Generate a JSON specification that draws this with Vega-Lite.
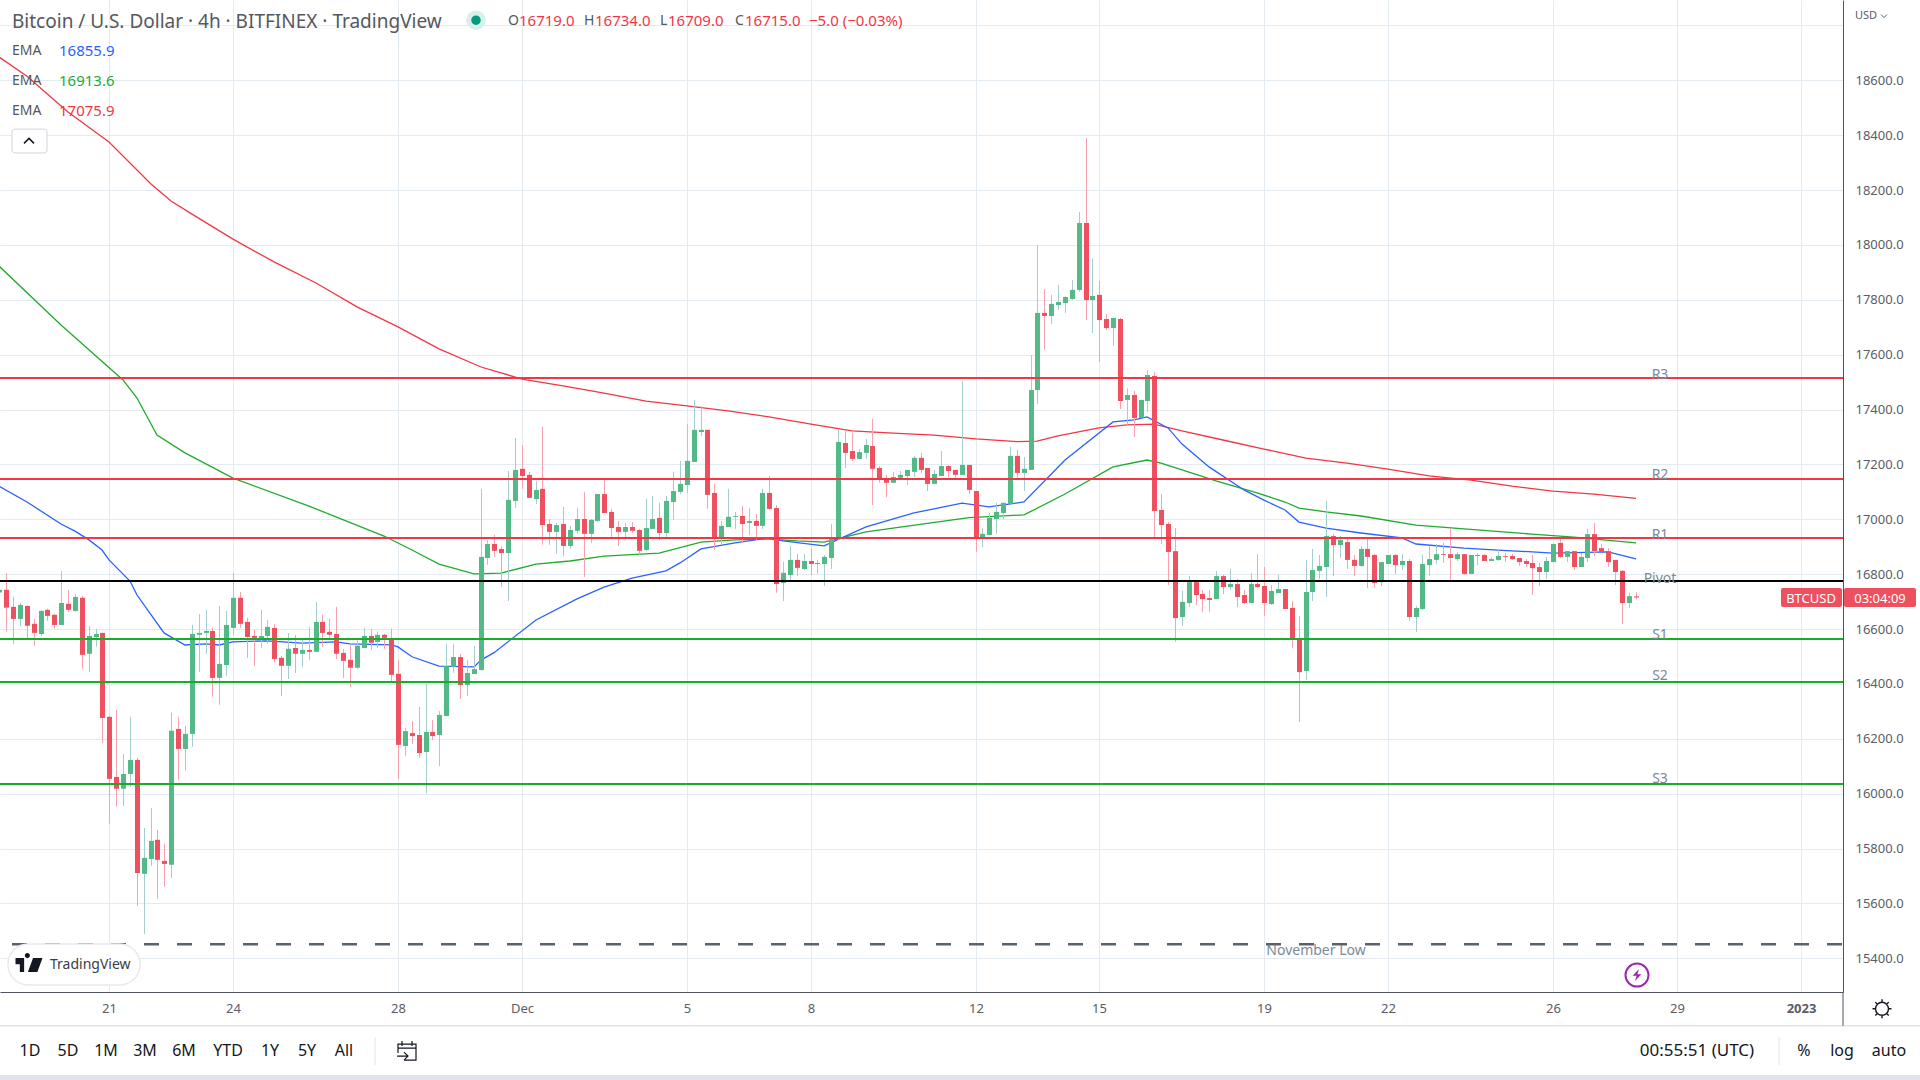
{"$schema":"https://vega.github.io/schema/vega-lite/v6.json","width":1843,"height":992,"autosize":{"type":"none"},"padding":{"left":0,"top":0,"right":77,"bottom":88},"background":"#ffffff","config":{"font":"Noto Sans","view":{"stroke":null},"text":{"font":"Noto Sans"}},
"datasets":{"bars":[
{"t":"2022-11-18T08:00Z","o":16733,"h":16750,"l":16720,"c":16743},{"t":"2022-11-18T12:00Z","o":16743,"h":16804,"l":16591,"c":16678},{"t":"2022-11-18T16:00Z","o":16681,"h":16717,"l":16546,"c":16637},{"t":"2022-11-18T20:00Z","o":16637,"h":16695,"l":16612,"c":16688},
{"t":"2022-11-19T00:00Z","o":16684,"h":16688,"l":16568,"c":16612},{"t":"2022-11-19T04:00Z","o":16619,"h":16637,"l":16539,"c":16586},{"t":"2022-11-19T08:00Z","o":16582,"h":16670,"l":16575,"c":16666},{"t":"2022-11-19T12:00Z","o":16670,"h":16674,"l":16630,"c":16648},{"t":"2022-11-19T16:00Z","o":16652,"h":16655,"l":16601,"c":16615},{"t":"2022-11-19T20:00Z","o":16615,"h":16812,"l":16615,"c":16695},
{"t":"2022-11-20T00:00Z","o":16692,"h":16743,"l":16663,"c":16670},{"t":"2022-11-20T04:00Z","o":16666,"h":16728,"l":16663,"c":16717},{"t":"2022-11-20T08:00Z","o":16714,"h":16721,"l":16455,"c":16506},{"t":"2022-11-20T12:00Z","o":16510,"h":16612,"l":16444,"c":16575},{"t":"2022-11-20T16:00Z","o":16571,"h":16601,"l":16535,"c":16582},{"t":"2022-11-20T20:00Z","o":16586,"h":16586,"l":16185,"c":16276},
{"t":"2022-11-21T00:00Z","o":16280,"h":16284,"l":15890,"c":16054},{"t":"2022-11-21T04:00Z","o":16061,"h":16305,"l":15952,"c":16018},{"t":"2022-11-21T08:00Z","o":16018,"h":16145,"l":15956,"c":16072},{"t":"2022-11-21T12:00Z","o":16072,"h":16280,"l":16025,"c":16123},{"t":"2022-11-21T16:00Z","o":16123,"h":16131,"l":15591,"c":15711},{"t":"2022-11-21T20:00Z","o":15708,"h":15875,"l":15489,"c":15766},
{"t":"2022-11-22T00:00Z","o":15762,"h":15948,"l":15737,"c":15828},{"t":"2022-11-22T04:00Z","o":15832,"h":15868,"l":15617,"c":15759},{"t":"2022-11-22T08:00Z","o":15755,"h":15817,"l":15660,"c":15744},{"t":"2022-11-22T12:00Z","o":15741,"h":16295,"l":15693,"c":16229},{"t":"2022-11-22T16:00Z","o":16236,"h":16280,"l":16050,"c":16163},{"t":"2022-11-22T20:00Z","o":16163,"h":16247,"l":16083,"c":16218},
{"t":"2022-11-23T00:00Z","o":16218,"h":16615,"l":16171,"c":16582},{"t":"2022-11-23T04:00Z","o":16579,"h":16655,"l":16444,"c":16586},{"t":"2022-11-23T08:00Z","o":16586,"h":16670,"l":16510,"c":16593},{"t":"2022-11-23T12:00Z","o":16593,"h":16604,"l":16353,"c":16422},{"t":"2022-11-23T16:00Z","o":16422,"h":16684,"l":16324,"c":16473},{"t":"2022-11-23T20:00Z","o":16469,"h":16666,"l":16429,"c":16615},
{"t":"2022-11-24T00:00Z","o":16604,"h":16805,"l":16579,"c":16714},{"t":"2022-11-24T04:00Z","o":16714,"h":16735,"l":16604,"c":16619},{"t":"2022-11-24T08:00Z","o":16626,"h":16641,"l":16495,"c":16571},{"t":"2022-11-24T12:00Z","o":16575,"h":16597,"l":16466,"c":16568},{"t":"2022-11-24T16:00Z","o":16564,"h":16670,"l":16531,"c":16575},{"t":"2022-11-24T20:00Z","o":16575,"h":16633,"l":16546,"c":16608},
{"t":"2022-11-25T00:00Z","o":16604,"h":16619,"l":16477,"c":16491},{"t":"2022-11-25T04:00Z","o":16495,"h":16502,"l":16356,"c":16466},{"t":"2022-11-25T08:00Z","o":16466,"h":16586,"l":16418,"c":16528},{"t":"2022-11-25T12:00Z","o":16531,"h":16579,"l":16440,"c":16510},{"t":"2022-11-25T16:00Z","o":16510,"h":16561,"l":16462,"c":16524},{"t":"2022-11-25T20:00Z","o":16524,"h":16608,"l":16488,"c":16517},
{"t":"2022-11-26T00:00Z","o":16517,"h":16699,"l":16517,"c":16626},{"t":"2022-11-26T04:00Z","o":16626,"h":16652,"l":16535,"c":16586},{"t":"2022-11-26T08:00Z","o":16590,"h":16637,"l":16568,"c":16579},{"t":"2022-11-26T12:00Z","o":16582,"h":16681,"l":16491,"c":16510},{"t":"2022-11-26T16:00Z","o":16513,"h":16528,"l":16422,"c":16484},{"t":"2022-11-26T20:00Z","o":16488,"h":16542,"l":16389,"c":16459},
{"t":"2022-11-27T00:00Z","o":16459,"h":16561,"l":16455,"c":16539},{"t":"2022-11-27T04:00Z","o":16531,"h":16604,"l":16531,"c":16575},{"t":"2022-11-27T08:00Z","o":16575,"h":16601,"l":16524,"c":16550},{"t":"2022-11-27T12:00Z","o":16553,"h":16590,"l":16531,"c":16579},{"t":"2022-11-27T16:00Z","o":16579,"h":16582,"l":16528,"c":16568},{"t":"2022-11-27T20:00Z","o":16564,"h":16601,"l":16411,"c":16433},
{"t":"2022-11-28T00:00Z","o":16437,"h":16488,"l":16054,"c":16178},{"t":"2022-11-28T04:00Z","o":16174,"h":16239,"l":16137,"c":16228},{"t":"2022-11-28T08:00Z","o":16221,"h":16265,"l":16181,"c":16210},{"t":"2022-11-28T12:00Z","o":16214,"h":16316,"l":16130,"c":16148},{"t":"2022-11-28T16:00Z","o":16152,"h":16400,"l":16002,"c":16225},{"t":"2022-11-28T20:00Z","o":16225,"h":16268,"l":16196,"c":16210},
{"t":"2022-11-29T00:00Z","o":16214,"h":16301,"l":16101,"c":16287},{"t":"2022-11-29T04:00Z","o":16283,"h":16545,"l":16283,"c":16465},{"t":"2022-11-29T08:00Z","o":16462,"h":16545,"l":16440,"c":16498},{"t":"2022-11-29T12:00Z","o":16498,"h":16509,"l":16345,"c":16396},{"t":"2022-11-29T16:00Z","o":16396,"h":16487,"l":16356,"c":16440},{"t":"2022-11-29T20:00Z","o":16436,"h":16538,"l":16436,"c":16454},
{"t":"2022-11-30T00:00Z","o":16451,"h":17111,"l":16447,"c":16863},{"t":"2022-11-30T04:00Z","o":16859,"h":16925,"l":16834,"c":16910},{"t":"2022-11-30T08:00Z","o":16910,"h":16943,"l":16863,"c":16885},{"t":"2022-11-30T12:00Z","o":16892,"h":16903,"l":16753,"c":16877},{"t":"2022-11-30T16:00Z","o":16877,"h":17176,"l":16702,"c":17071},{"t":"2022-11-30T20:00Z","o":17067,"h":17297,"l":17041,"c":17180},
{"t":"2022-12-01T00:00Z","o":17184,"h":17271,"l":17111,"c":17158},{"t":"2022-12-01T04:00Z","o":17162,"h":17173,"l":17078,"c":17078},{"t":"2022-12-01T08:00Z","o":17074,"h":17140,"l":17056,"c":17107},{"t":"2022-12-01T12:00Z","o":17111,"h":17337,"l":16907,"c":16979},{"t":"2022-12-01T16:00Z","o":16983,"h":17001,"l":16907,"c":16954},{"t":"2022-12-01T20:00Z","o":16954,"h":16987,"l":16874,"c":16979},
{"t":"2022-12-02T00:00Z","o":16983,"h":17045,"l":16866,"c":16903},{"t":"2022-12-02T04:00Z","o":16903,"h":16976,"l":16892,"c":16961},{"t":"2022-12-02T08:00Z","o":16958,"h":17041,"l":16947,"c":17001},{"t":"2022-12-02T12:00Z","o":17001,"h":17100,"l":16790,"c":16947},{"t":"2022-12-02T16:00Z","o":16947,"h":17001,"l":16914,"c":16998},{"t":"2022-12-02T20:00Z","o":16994,"h":17092,"l":16990,"c":17092},
{"t":"2022-12-03T00:00Z","o":17092,"h":17147,"l":17023,"c":17023},{"t":"2022-12-03T04:00Z","o":17027,"h":17038,"l":16936,"c":16968},{"t":"2022-12-03T08:00Z","o":16972,"h":16994,"l":16903,"c":16954},{"t":"2022-12-03T12:00Z","o":16954,"h":16987,"l":16932,"c":16972},{"t":"2022-12-03T16:00Z","o":16972,"h":16990,"l":16950,"c":16958},{"t":"2022-12-03T20:00Z","o":16961,"h":16965,"l":16870,"c":16885},
{"t":"2022-12-04T00:00Z","o":16888,"h":17074,"l":16885,"c":16968},{"t":"2022-12-04T04:00Z","o":16965,"h":17085,"l":16965,"c":17001},{"t":"2022-12-04T08:00Z","o":17005,"h":17060,"l":16925,"c":16950},{"t":"2022-12-04T12:00Z","o":16950,"h":17085,"l":16936,"c":17067},{"t":"2022-12-04T16:00Z","o":17063,"h":17173,"l":16998,"c":17103},{"t":"2022-12-04T20:00Z","o":17100,"h":17213,"l":17092,"c":17129},
{"t":"2022-12-05T00:00Z","o":17125,"h":17348,"l":17096,"c":17213},{"t":"2022-12-05T04:00Z","o":17209,"h":17435,"l":17209,"c":17326},{"t":"2022-12-05T08:00Z","o":17318,"h":17413,"l":17304,"c":17326},{"t":"2022-12-05T12:00Z","o":17326,"h":17326,"l":17038,"c":17089},{"t":"2022-12-05T16:00Z","o":17096,"h":17129,"l":16888,"c":16932},{"t":"2022-12-05T20:00Z","o":16932,"h":16994,"l":16910,"c":16976},
{"t":"2022-12-06T00:00Z","o":16972,"h":17111,"l":16972,"c":17009},{"t":"2022-12-06T04:00Z","o":17009,"h":17027,"l":16965,"c":17012},{"t":"2022-12-06T08:00Z","o":17012,"h":17049,"l":16914,"c":16983},{"t":"2022-12-06T12:00Z","o":16987,"h":17041,"l":16943,"c":16994},{"t":"2022-12-06T16:00Z","o":16994,"h":17019,"l":16925,"c":16976},{"t":"2022-12-06T20:00Z","o":16976,"h":17111,"l":16965,"c":17096},
{"t":"2022-12-07T00:00Z","o":17096,"h":17158,"l":17034,"c":17038},{"t":"2022-12-07T04:00Z","o":17041,"h":17052,"l":16732,"c":16764},{"t":"2022-12-07T08:00Z","o":16768,"h":16845,"l":16702,"c":16805},{"t":"2022-12-07T12:00Z","o":16797,"h":16903,"l":16779,"c":16852},{"t":"2022-12-07T16:00Z","o":16852,"h":16874,"l":16794,"c":16823},{"t":"2022-12-07T20:00Z","o":16819,"h":16874,"l":16815,"c":16848},
{"t":"2022-12-08T00:00Z","o":16848,"h":16896,"l":16797,"c":16837},{"t":"2022-12-08T04:00Z","o":16837,"h":16852,"l":16801,"c":16841},{"t":"2022-12-08T08:00Z","o":16837,"h":16870,"l":16757,"c":16863},{"t":"2022-12-08T12:00Z","o":16859,"h":16983,"l":16819,"c":16928},{"t":"2022-12-08T16:00Z","o":16928,"h":17326,"l":16925,"c":17282},{"t":"2022-12-08T20:00Z","o":17278,"h":17322,"l":17187,"c":17242},
{"t":"2022-12-09T00:00Z","o":17249,"h":17315,"l":17213,"c":17220},{"t":"2022-12-09T04:00Z","o":17220,"h":17256,"l":17220,"c":17245},{"t":"2022-12-09T08:00Z","o":17242,"h":17293,"l":17220,"c":17271},{"t":"2022-12-09T12:00Z","o":17267,"h":17366,"l":17052,"c":17184},{"t":"2022-12-09T16:00Z","o":17187,"h":17194,"l":17133,"c":17147},{"t":"2022-12-09T20:00Z","o":17147,"h":17162,"l":17081,"c":17133},
{"t":"2022-12-10T00:00Z","o":17133,"h":17173,"l":17133,"c":17154},{"t":"2022-12-10T04:00Z","o":17151,"h":17176,"l":17147,"c":17162},{"t":"2022-12-10T08:00Z","o":17158,"h":17180,"l":17125,"c":17180},{"t":"2022-12-10T12:00Z","o":17173,"h":17231,"l":17154,"c":17224},{"t":"2022-12-10T16:00Z","o":17224,"h":17242,"l":17169,"c":17180},{"t":"2022-12-10T20:00Z","o":17187,"h":17187,"l":17103,"c":17129},
{"t":"2022-12-11T00:00Z","o":17129,"h":17180,"l":17129,"c":17165},{"t":"2022-12-11T04:00Z","o":17158,"h":17249,"l":17158,"c":17194},{"t":"2022-12-11T08:00Z","o":17194,"h":17198,"l":17154,"c":17176},{"t":"2022-12-11T12:00Z","o":17180,"h":17180,"l":17151,"c":17162},{"t":"2022-12-11T16:00Z","o":17162,"h":17504,"l":17162,"c":17198},{"t":"2022-12-11T20:00Z","o":17198,"h":17198,"l":17092,"c":17107},
{"t":"2022-12-12T00:00Z","o":17103,"h":17103,"l":16881,"c":16932},{"t":"2022-12-12T04:00Z","o":16932,"h":16968,"l":16899,"c":16947},{"t":"2022-12-12T08:00Z","o":16943,"h":17023,"l":16943,"c":17005},{"t":"2022-12-12T12:00Z","o":17001,"h":17060,"l":16947,"c":17027},{"t":"2022-12-12T16:00Z","o":17023,"h":17060,"l":17001,"c":17060},{"t":"2022-12-12T20:00Z","o":17056,"h":17264,"l":17056,"c":17231},
{"t":"2022-12-13T00:00Z","o":17231,"h":17253,"l":17151,"c":17169},{"t":"2022-12-13T04:00Z","o":17169,"h":17227,"l":17103,"c":17184},{"t":"2022-12-13T08:00Z","o":17180,"h":17599,"l":17180,"c":17471},{"t":"2022-12-13T12:00Z","o":17471,"h":17999,"l":17420,"c":17752},{"t":"2022-12-13T16:00Z","o":17752,"h":17839,"l":17617,"c":17741},{"t":"2022-12-13T20:00Z","o":17741,"h":17818,"l":17712,"c":17785},
{"t":"2022-12-14T00:00Z","o":17781,"h":17854,"l":17763,"c":17792},{"t":"2022-12-14T04:00Z","o":17788,"h":17814,"l":17752,"c":17810},{"t":"2022-12-14T08:00Z","o":17803,"h":17872,"l":17799,"c":17836},{"t":"2022-12-14T12:00Z","o":17836,"h":18120,"l":17829,"c":18080},{"t":"2022-12-14T16:00Z","o":18080,"h":18390,"l":17726,"c":17799},{"t":"2022-12-14T20:00Z","o":17799,"h":17949,"l":17679,"c":17814},
{"t":"2022-12-15T00:00Z","o":17818,"h":17869,"l":17573,"c":17726},{"t":"2022-12-15T04:00Z","o":17730,"h":17748,"l":17690,"c":17697},{"t":"2022-12-15T08:00Z","o":17697,"h":17734,"l":17632,"c":17734},{"t":"2022-12-15T12:00Z","o":17730,"h":17734,"l":17402,"c":17431},{"t":"2022-12-15T16:00Z","o":17435,"h":17478,"l":17344,"c":17453},{"t":"2022-12-15T20:00Z","o":17453,"h":17468,"l":17300,"c":17369},
{"t":"2022-12-16T00:00Z","o":17369,"h":17435,"l":17369,"c":17435},{"t":"2022-12-16T04:00Z","o":17431,"h":17544,"l":17391,"c":17526},{"t":"2022-12-16T08:00Z","o":17522,"h":17537,"l":16935,"c":17030},{"t":"2022-12-16T12:00Z","o":17034,"h":17092,"l":16910,"c":16979},{"t":"2022-12-16T16:00Z","o":16983,"h":16990,"l":16760,"c":16881},{"t":"2022-12-16T20:00Z","o":16884,"h":16968,"l":16553,"c":16640},
{"t":"2022-12-17T00:00Z","o":16644,"h":16739,"l":16611,"c":16699},{"t":"2022-12-17T04:00Z","o":16695,"h":16793,"l":16680,"c":16771},{"t":"2022-12-17T08:00Z","o":16771,"h":16775,"l":16688,"c":16724},{"t":"2022-12-17T12:00Z","o":16728,"h":16742,"l":16662,"c":16709},{"t":"2022-12-17T16:00Z","o":16713,"h":16742,"l":16662,"c":16706},{"t":"2022-12-17T20:00Z","o":16709,"h":16811,"l":16709,"c":16793},
{"t":"2022-12-18T00:00Z","o":16793,"h":16797,"l":16728,"c":16753},{"t":"2022-12-18T04:00Z","o":16753,"h":16819,"l":16742,"c":16764},{"t":"2022-12-18T08:00Z","o":16764,"h":16782,"l":16680,"c":16717},{"t":"2022-12-18T12:00Z","o":16724,"h":16742,"l":16691,"c":16695},{"t":"2022-12-18T16:00Z","o":16695,"h":16804,"l":16695,"c":16764},{"t":"2022-12-18T20:00Z","o":16764,"h":16873,"l":16750,"c":16753},
{"t":"2022-12-19T00:00Z","o":16757,"h":16826,"l":16648,"c":16695},{"t":"2022-12-19T04:00Z","o":16691,"h":16760,"l":16688,"c":16739},{"t":"2022-12-19T08:00Z","o":16731,"h":16797,"l":16731,"c":16746},{"t":"2022-12-19T12:00Z","o":16746,"h":16746,"l":16673,"c":16673},{"t":"2022-12-19T16:00Z","o":16677,"h":16702,"l":16531,"c":16567},{"t":"2022-12-19T20:00Z","o":16564,"h":16648,"l":16261,"c":16443},
{"t":"2022-12-20T00:00Z","o":16447,"h":16852,"l":16414,"c":16735},{"t":"2022-12-20T04:00Z","o":16735,"h":16892,"l":16702,"c":16815},{"t":"2022-12-20T08:00Z","o":16812,"h":16870,"l":16782,"c":16830},{"t":"2022-12-20T12:00Z","o":16826,"h":17067,"l":16717,"c":16939},{"t":"2022-12-20T16:00Z","o":16939,"h":16946,"l":16793,"c":16906},{"t":"2022-12-20T20:00Z","o":16906,"h":16939,"l":16859,"c":16925},
{"t":"2022-12-21T00:00Z","o":16917,"h":16928,"l":16819,"c":16852},{"t":"2022-12-21T04:00Z","o":16852,"h":16870,"l":16793,"c":16830},{"t":"2022-12-21T08:00Z","o":16830,"h":16903,"l":16826,"c":16892},{"t":"2022-12-21T12:00Z","o":16892,"h":16928,"l":16750,"c":16863},{"t":"2022-12-21T16:00Z","o":16870,"h":16873,"l":16753,"c":16768},{"t":"2022-12-21T20:00Z","o":16771,"h":16844,"l":16757,"c":16844},
{"t":"2022-12-22T00:00Z","o":16837,"h":16870,"l":16837,"c":16870},{"t":"2022-12-22T04:00Z","o":16870,"h":16873,"l":16801,"c":16833},{"t":"2022-12-22T08:00Z","o":16833,"h":16873,"l":16815,"c":16848},{"t":"2022-12-22T12:00Z","o":16848,"h":16855,"l":16629,"c":16644},{"t":"2022-12-22T16:00Z","o":16644,"h":16684,"l":16589,"c":16677},{"t":"2022-12-22T20:00Z","o":16673,"h":16870,"l":16669,"c":16837},
{"t":"2022-12-23T00:00Z","o":16833,"h":16903,"l":16793,"c":16855},{"t":"2022-12-23T04:00Z","o":16852,"h":16910,"l":16837,"c":16873},{"t":"2022-12-23T08:00Z","o":16873,"h":16914,"l":16841,"c":16870},{"t":"2022-12-23T12:00Z","o":16873,"h":16968,"l":16779,"c":16859},{"t":"2022-12-23T16:00Z","o":16855,"h":16881,"l":16848,"c":16873},{"t":"2022-12-23T20:00Z","o":16873,"h":16873,"l":16797,"c":16801},
{"t":"2022-12-24T00:00Z","o":16801,"h":16870,"l":16801,"c":16870},{"t":"2022-12-24T04:00Z","o":16866,"h":16877,"l":16833,"c":16870},{"t":"2022-12-24T08:00Z","o":16870,"h":16873,"l":16848,"c":16848},{"t":"2022-12-24T12:00Z","o":16848,"h":16861,"l":16848,"c":16855},{"t":"2022-12-24T16:00Z","o":16852,"h":16892,"l":16848,"c":16866},{"t":"2022-12-24T20:00Z","o":16866,"h":16877,"l":16844,"c":16863},
{"t":"2022-12-25T00:00Z","o":16866,"h":16874,"l":16852,"c":16855},{"t":"2022-12-25T04:00Z","o":16859,"h":16859,"l":16830,"c":16844},{"t":"2022-12-25T08:00Z","o":16848,"h":16855,"l":16826,"c":16837},{"t":"2022-12-25T12:00Z","o":16841,"h":16870,"l":16724,"c":16822},{"t":"2022-12-25T16:00Z","o":16826,"h":16841,"l":16757,"c":16808},{"t":"2022-12-25T20:00Z","o":16808,"h":16863,"l":16782,"c":16848},
{"t":"2022-12-26T00:00Z","o":16844,"h":16910,"l":16844,"c":16910},{"t":"2022-12-26T04:00Z","o":16914,"h":16932,"l":16859,"c":16863},{"t":"2022-12-26T08:00Z","o":16863,"h":16884,"l":16844,"c":16884},{"t":"2022-12-26T12:00Z","o":16884,"h":16884,"l":16815,"c":16826},{"t":"2022-12-26T16:00Z","o":16826,"h":16877,"l":16826,"c":16863},{"t":"2022-12-26T20:00Z","o":16859,"h":16965,"l":16844,"c":16946},
{"t":"2022-12-27T00:00Z","o":16946,"h":16986,"l":16866,"c":16884},{"t":"2022-12-27T04:00Z","o":16895,"h":16910,"l":16881,"c":16881},{"t":"2022-12-27T08:00Z","o":16884,"h":16895,"l":16826,"c":16844},{"t":"2022-12-27T12:00Z","o":16852,"h":16852,"l":16761,"c":16808},{"t":"2022-12-27T16:00Z","o":16812,"h":16815,"l":16618,"c":16695},{"t":"2022-12-27T20:00Z","o":16695,"h":16731,"l":16677,"c":16720},
{"t":"2022-12-28T00:00Z","o":16719,"h":16734,"l":16709,"c":16715}],
"ema":[
{"s":"EMA slow","t":"2022-11-18T08:00Z","v":18685},{"s":"EMA slow","t":"2022-11-19T00:00Z","v":18615},{"s":"EMA slow","t":"2022-11-20T00:00Z","v":18484},{"s":"EMA slow","t":"2022-11-21T00:00Z","v":18375},{"s":"EMA slow","t":"2022-11-22T00:00Z","v":18222},{"s":"EMA slow","t":"2022-11-22T12:00Z","v":18160},{"s":"EMA slow","t":"2022-11-23T00:00Z","v":18112},{"s":"EMA slow","t":"2022-11-24T00:00Z","v":18021},{"s":"EMA slow","t":"2022-11-25T00:00Z","v":17938},{"s":"EMA slow","t":"2022-11-26T00:00Z","v":17861},{"s":"EMA slow","t":"2022-11-27T00:00Z","v":17774},{"s":"EMA slow","t":"2022-11-28T00:00Z","v":17701},{"s":"EMA slow","t":"2022-11-29T00:00Z","v":17621},{"s":"EMA slow","t":"2022-11-30T00:00Z","v":17555},{"s":"EMA slow","t":"2022-12-01T00:00Z","v":17511},{"s":"EMA slow","t":"2022-12-02T00:00Z","v":17486},{"s":"EMA slow","t":"2022-12-03T00:00Z","v":17460},{"s":"EMA slow","t":"2022-12-04T00:00Z","v":17431},{"s":"EMA slow","t":"2022-12-05T00:00Z","v":17413},{"s":"EMA slow","t":"2022-12-06T00:00Z","v":17395},{"s":"EMA slow","t":"2022-12-07T00:00Z","v":17373},{"s":"EMA slow","t":"2022-12-08T00:00Z","v":17347},{"s":"EMA slow","t":"2022-12-09T00:00Z","v":17322},{"s":"EMA slow","t":"2022-12-10T00:00Z","v":17314},{"s":"EMA slow","t":"2022-12-11T00:00Z","v":17307},{"s":"EMA slow","t":"2022-12-12T00:00Z","v":17293},{"s":"EMA slow","t":"2022-12-13T00:00Z","v":17283},{"s":"EMA slow","t":"2022-12-13T12:00Z","v":17285},{"s":"EMA slow","t":"2022-12-14T00:00Z","v":17304},{"s":"EMA slow","t":"2022-12-15T00:00Z","v":17333},{"s":"EMA slow","t":"2022-12-15T16:00Z","v":17344},{"s":"EMA slow","t":"2022-12-16T08:00Z","v":17347},{"s":"EMA slow","t":"2022-12-17T00:00Z","v":17322},{"s":"EMA slow","t":"2022-12-18T00:00Z","v":17289},{"s":"EMA slow","t":"2022-12-19T00:00Z","v":17256},{"s":"EMA slow","t":"2022-12-20T00:00Z","v":17223},{"s":"EMA slow","t":"2022-12-21T00:00Z","v":17205},{"s":"EMA slow","t":"2022-12-22T00:00Z","v":17183},{"s":"EMA slow","t":"2022-12-23T00:00Z","v":17158},{"s":"EMA slow","t":"2022-12-24T00:00Z","v":17143},{"s":"EMA slow","t":"2022-12-25T00:00Z","v":17121},{"s":"EMA slow","t":"2022-12-26T00:00Z","v":17103},{"s":"EMA slow","t":"2022-12-27T00:00Z","v":17092},{"s":"EMA slow","t":"2022-12-28T00:00Z","v":17076},
{"s":"EMA mid","t":"2022-11-18T08:00Z","v":17923},{"s":"EMA mid","t":"2022-11-19T20:00Z","v":17708},{"s":"EMA mid","t":"2022-11-21T08:00Z","v":17508},{"s":"EMA mid","t":"2022-11-21T16:00Z","v":17442},{"s":"EMA mid","t":"2022-11-22T04:00Z","v":17307},{"s":"EMA mid","t":"2022-11-22T20:00Z","v":17242},{"s":"EMA mid","t":"2022-11-24T00:00Z","v":17150},{"s":"EMA mid","t":"2022-11-25T20:00Z","v":17048},{"s":"EMA mid","t":"2022-11-27T16:00Z","v":16939},{"s":"EMA mid","t":"2022-11-28T08:00Z","v":16888},{"s":"EMA mid","t":"2022-11-29T00:00Z","v":16837},{"s":"EMA mid","t":"2022-11-29T20:00Z","v":16801},{"s":"EMA mid","t":"2022-11-30T12:00Z","v":16804},{"s":"EMA mid","t":"2022-12-01T08:00Z","v":16837},{"s":"EMA mid","t":"2022-12-02T04:00Z","v":16848},{"s":"EMA mid","t":"2022-12-03T00:00Z","v":16866},{"s":"EMA mid","t":"2022-12-04T08:00Z","v":16877},{"s":"EMA mid","t":"2022-12-05T08:00Z","v":16917},{"s":"EMA mid","t":"2022-12-06T04:00Z","v":16925},{"s":"EMA mid","t":"2022-12-07T00:00Z","v":16928},{"s":"EMA mid","t":"2022-12-07T16:00Z","v":16921},{"s":"EMA mid","t":"2022-12-08T08:00Z","v":16917},{"s":"EMA mid","t":"2022-12-09T08:00Z","v":16954},{"s":"EMA mid","t":"2022-12-11T20:00Z","v":17006},{"s":"EMA mid","t":"2022-12-13T04:00Z","v":17016},{"s":"EMA mid","t":"2022-12-14T04:00Z","v":17092},{"s":"EMA mid","t":"2022-12-15T08:00Z","v":17191},{"s":"EMA mid","t":"2022-12-16T04:00Z","v":17216},{"s":"EMA mid","t":"2022-12-16T12:00Z","v":17205},{"s":"EMA mid","t":"2022-12-17T00:00Z","v":17180},{"s":"EMA mid","t":"2022-12-17T20:00Z","v":17140},{"s":"EMA mid","t":"2022-12-18T20:00Z","v":17096},{"s":"EMA mid","t":"2022-12-19T12:00Z","v":17063},{"s":"EMA mid","t":"2022-12-19T20:00Z","v":17041},{"s":"EMA mid","t":"2022-12-20T12:00Z","v":17027},{"s":"EMA mid","t":"2022-12-21T08:00Z","v":17012},{"s":"EMA mid","t":"2022-12-22T16:00Z","v":16979},{"s":"EMA mid","t":"2022-12-23T20:00Z","v":16965},{"s":"EMA mid","t":"2022-12-25T12:00Z","v":16946},{"s":"EMA mid","t":"2022-12-26T12:00Z","v":16935},{"s":"EMA mid","t":"2022-12-28T00:00Z","v":16914},
{"s":"EMA fast","t":"2022-11-18T08:00Z","v":17121},{"s":"EMA fast","t":"2022-11-19T00:00Z","v":17063},{"s":"EMA fast","t":"2022-11-19T20:00Z","v":16983},{"s":"EMA fast","t":"2022-11-20T04:00Z","v":16957},{"s":"EMA fast","t":"2022-11-20T12:00Z","v":16925},{"s":"EMA fast","t":"2022-11-20T20:00Z","v":16888},{"s":"EMA fast","t":"2022-11-21T00:00Z","v":16852},{"s":"EMA fast","t":"2022-11-21T12:00Z","v":16775},{"s":"EMA fast","t":"2022-11-21T16:00Z","v":16724},{"s":"EMA fast","t":"2022-11-22T08:00Z","v":16586},{"s":"EMA fast","t":"2022-11-22T20:00Z","v":16542},{"s":"EMA fast","t":"2022-11-23T08:00Z","v":16546},{"s":"EMA fast","t":"2022-11-23T16:00Z","v":16542},{"s":"EMA fast","t":"2022-11-24T00:00Z","v":16553},{"s":"EMA fast","t":"2022-11-24T20:00Z","v":16557},{"s":"EMA fast","t":"2022-11-25T16:00Z","v":16549},{"s":"EMA fast","t":"2022-11-26T12:00Z","v":16553},{"s":"EMA fast","t":"2022-11-26T20:00Z","v":16546},{"s":"EMA fast","t":"2022-11-27T20:00Z","v":16542},{"s":"EMA fast","t":"2022-11-28T00:00Z","v":16535},{"s":"EMA fast","t":"2022-11-28T08:00Z","v":16499},{"s":"EMA fast","t":"2022-11-29T00:00Z","v":16465},{"s":"EMA fast","t":"2022-11-29T20:00Z","v":16462},{"s":"EMA fast","t":"2022-11-30T00:00Z","v":16487},{"s":"EMA fast","t":"2022-11-30T08:00Z","v":16514},{"s":"EMA fast","t":"2022-12-01T08:00Z","v":16633},{"s":"EMA fast","t":"2022-12-02T08:00Z","v":16710},{"s":"EMA fast","t":"2022-12-03T00:00Z","v":16753},{"s":"EMA fast","t":"2022-12-03T16:00Z","v":16786},{"s":"EMA fast","t":"2022-12-04T12:00Z","v":16812},{"s":"EMA fast","t":"2022-12-04T20:00Z","v":16841},{"s":"EMA fast","t":"2022-12-05T08:00Z","v":16892},{"s":"EMA fast","t":"2022-12-06T04:00Z","v":16914},{"s":"EMA fast","t":"2022-12-07T00:00Z","v":16932},{"s":"EMA fast","t":"2022-12-07T08:00Z","v":16921},{"s":"EMA fast","t":"2022-12-08T08:00Z","v":16903},{"s":"EMA fast","t":"2022-12-09T08:00Z","v":16972},{"s":"EMA fast","t":"2022-12-10T12:00Z","v":17023},{"s":"EMA fast","t":"2022-12-11T16:00Z","v":17059},{"s":"EMA fast","t":"2022-12-12T08:00Z","v":17045},{"s":"EMA fast","t":"2022-12-13T04:00Z","v":17063},{"s":"EMA fast","t":"2022-12-14T04:00Z","v":17216},{"s":"EMA fast","t":"2022-12-15T08:00Z","v":17355},{"s":"EMA fast","t":"2022-12-15T20:00Z","v":17362},{"s":"EMA fast","t":"2022-12-16T04:00Z","v":17373},{"s":"EMA fast","t":"2022-12-16T16:00Z","v":17333},{"s":"EMA fast","t":"2022-12-17T00:00Z","v":17274},{"s":"EMA fast","t":"2022-12-17T16:00Z","v":17191},{"s":"EMA fast","t":"2022-12-18T12:00Z","v":17107},{"s":"EMA fast","t":"2022-12-19T00:00Z","v":17070},{"s":"EMA fast","t":"2022-12-19T12:00Z","v":17034},{"s":"EMA fast","t":"2022-12-19T20:00Z","v":16990},{"s":"EMA fast","t":"2022-12-20T12:00Z","v":16968},{"s":"EMA fast","t":"2022-12-21T08:00Z","v":16950},{"s":"EMA fast","t":"2022-12-22T08:00Z","v":16932},{"s":"EMA fast","t":"2022-12-22T16:00Z","v":16910},{"s":"EMA fast","t":"2022-12-23T20:00Z","v":16895},{"s":"EMA fast","t":"2022-12-24T16:00Z","v":16888},{"s":"EMA fast","t":"2022-12-26T00:00Z","v":16877},{"s":"EMA fast","t":"2022-12-27T08:00Z","v":16881},{"s":"EMA fast","t":"2022-12-28T00:00Z","v":16856}]},
"encoding":{"x":{"field":"t","type":"temporal","axis":{"title":null,"orient":"bottom","values":[{"year":2022,"month":11,"date":21,"utc":true},{"year":2022,"month":11,"date":24,"utc":true},{"year":2022,"month":11,"date":28,"utc":true},{"year":2022,"month":12,"date":1,"utc":true},{"year":2022,"month":12,"date":5,"utc":true},{"year":2022,"month":12,"date":8,"utc":true},{"year":2022,"month":12,"date":12,"utc":true},{"year":2022,"month":12,"date":15,"utc":true},{"year":2022,"month":12,"date":19,"utc":true},{"year":2022,"month":12,"date":22,"utc":true},{"year":2022,"month":12,"date":26,"utc":true},{"year":2022,"month":12,"date":29,"utc":true},{"year":2023,"month":1,"date":1,"utc":true}],"labelExpr":"utcdate(datum.value)==1 ? (utcmonth(datum.value)==0 ? '2023' : 'Dec') : utcdate(datum.value)","labelFontWeight":{"condition":{"test":"utcmonth(datum.value)==0","value":"bold"},"value":"normal"},"labelFont":"Noto Sans","labelFontSize":13,"labelColor":"#5a5d66","labelPadding":10,"labelOverlap":false,"labelFlush":false,"ticks":false,"domain":true,"domainColor":"#50535e","domainWidth":1,"grid":true,"gridColor":"#e3ebf1","gridWidth":1},"scale":{"type":"utc","round":true,"padding":0,"domain":[{"year":2022,"month":11,"date":18,"hours":8,"minutes":25,"utc":true},{"year":2023,"month":1,"date":2,"hours":0,"minutes":43,"utc":true}]}},
"y":{"field":"p","type":"quantitative","axis":{"title":null,"orient":"right","values":[15400,15600,15800,16000,16200,16400,16600,16800,17000,17200,17400,17600,17800,18000,18200,18400,18600,18800],"labelExpr":"datum.value>18700 ? '' : format(datum.value,'.1f')","labelFont":"Noto Sans","labelFontSize":13,"labelColor":"#5a5d66","labelPadding":12,"labelOverlap":false,"ticks":false,"domain":true,"domainColor":"#50535e","domainWidth":1,"grid":true,"gridColor":"#e3ebf1","gridWidth":1},"scale":{"zero":false,"nice":false,"domain":[15277.3,18892.5]}}},
"layer":[
{"data":{"name":"ema"},"mark":{"type":"line","strokeWidth":1.3,"clip":false},
"encoding":{
"y":{"field":"v","type":"quantitative","axis":{"title":null,"orient":"right","values":[15400,15600,15800,16000,16200,16400,16600,16800,17000,17200,17400,17600,17800,18000,18200,18400,18600,18800],"labelExpr":"datum.value>18700 ? '' : format(datum.value,'.1f')","labelFont":"Noto Sans","labelFontSize":13,"labelColor":"#5a5d66","labelPadding":12,"labelOverlap":false,"ticks":false,"domain":true,"domainColor":"#50535e","domainWidth":1,"grid":true,"gridColor":"#e3ebf1","gridWidth":1},"scale":{"zero":false,"nice":false,"domain":[15277.3,18892.5]}},
"color":{"field":"s","type":"nominal","legend":null,"scale":{"domain":["EMA fast","EMA mid","EMA slow","resistance","pivot","support"],"range":["#2962ff","#1fab2c","#f23645","#f23645","#000000","#1aab2a"]}}}},
{"data":{"name":"bars"},"mark":{"type":"rule","strokeWidth":1,"xOffset":0.5},"encoding":{"y":{"field":"l","type":"quantitative","axis":{"title":null,"orient":"right","values":[15400,15600,15800,16000,16200,16400,16600,16800,17000,17200,17400,17600,17800,18000,18200,18400,18600,18800],"labelExpr":"datum.value>18700 ? '' : format(datum.value,'.1f')","labelFont":"Noto Sans","labelFontSize":13,"labelColor":"#5a5d66","labelPadding":12,"labelOverlap":false,"ticks":false,"domain":true,"domainColor":"#50535e","domainWidth":1,"grid":true,"gridColor":"#e3ebf1","gridWidth":1},"scale":{"zero":false,"nice":false,"domain":[15277.3,18892.5]}},"y2":{"field":"h"},"color":{"condition":{"test":"datum.c>=datum.o","value":"#a3cdcf"},"value":"#f7a2ae"}}},
{"data":{"name":"bars"},"mark":{"type":"bar","size":5,"xOffset":0.5},"encoding":{"y":{"field":"o","type":"quantitative","axis":{"title":null,"orient":"right","values":[15400,15600,15800,16000,16200,16400,16600,16800,17000,17200,17400,17600,17800,18000,18200,18400,18600,18800],"labelExpr":"datum.value>18700 ? '' : format(datum.value,'.1f')","labelFont":"Noto Sans","labelFontSize":13,"labelColor":"#5a5d66","labelPadding":12,"labelOverlap":false,"ticks":false,"domain":true,"domainColor":"#50535e","domainWidth":1,"grid":true,"gridColor":"#e3ebf1","gridWidth":1},"scale":{"zero":false,"nice":false,"domain":[15277.3,18892.5]}},"y2":{"field":"c"},"color":{"condition":{"test":"datum.c>=datum.o","value":"#53b987"},"value":"#ef5060"}}},
{"data":{"values":[{"p":17515,"k":"resistance","t":"2022-11-18T08:25Z","t2":"2023-01-02T00:43Z"},{"p":17147,"k":"resistance","t":"2022-11-18T08:25Z","t2":"2023-01-02T00:43Z"},{"p":16932,"k":"resistance","t":"2022-11-18T08:25Z","t2":"2023-01-02T00:43Z"},{"p":16775,"k":"pivot","t":"2022-11-18T08:25Z","t2":"2023-01-02T00:43Z"},{"p":16564,"k":"support","t":"2022-11-18T08:25Z","t2":"2023-01-02T00:43Z"},{"p":16407,"k":"support","t":"2022-11-18T08:25Z","t2":"2023-01-02T00:43Z"},{"p":16035,"k":"support","t":"2022-11-18T08:25Z","t2":"2023-01-02T00:43Z"}]},"mark":{"type":"rule","strokeWidth":2},"encoding":{"x2":{"field":"t2"},"color":{"field":"k","type":"nominal","legend":null,"scale":{"domain":["EMA fast","EMA mid","EMA slow","resistance","pivot","support"],"range":["#2962ff","#1fab2c","#f23645","#f23645","#000000","#1aab2a"]}}}},
{"data":{"values":[{"p":15451,"t":"2022-11-18T15:23Z","t2":"2023-01-02T00:43Z"}]},"mark":{"type":"rule","strokeWidth":2.5,"strokeDash":[15,18],"color":"#5d606b"},"encoding":{"x2":{"field":"t2"}}},
{"data":{"values":[{"label":"R3","t":"2022-12-28T14:12Z","p":17525},{"label":"R2","t":"2022-12-28T14:12Z","p":17161},{"label":"R1","t":"2022-12-28T14:12Z","p":16942},{"label":"Pivot","t":"2022-12-28T14:12Z","p":16782},{"label":"S1","t":"2022-12-28T14:12Z","p":16578},{"label":"S2","t":"2022-12-28T14:12Z","p":16429},{"label":"S3","t":"2022-12-28T14:12Z","p":16053},{"label":"November Low","t":"2022-12-20T06:06Z","p":15427}]},"mark":{"type":"text","fontSize":14,"color":"#7a8a99","align":"center","baseline":"middle"},"encoding":{"text":{"field":"label"}}},
{"data":{"values":[{"t":"2022-11-18T13:04Z","t2":"2022-11-21T17:52Z","p":15452,"p2":15303}]},"mark":{"type":"rect","fill":"#ffffff","stroke":"#e9e9ec","strokeWidth":1.5,"cornerRadius":20},"encoding":{"x2":{"field":"t2"},"y2":{"field":"p2"}}},
{"data":{"values":[{"t":"2022-11-19T01:34Z","p":15376}]},"mark":{"type":"point","filled":true,"opacity":1,"fill":"#131722","stroke":null,"size":729,"shape":"M-1,-0.52H-0.36V0.52H-0.68V-0.05H-1Z M-0.12,-0.5A0.19,0.19,0,1,1,-0.119,-0.5Z M0.3,-0.52H1L0.62,0.52H-0.08Z"}},
{"data":{"values":[{"label":"TradingView","t":"2022-11-19T13:30Z","p":15376}]},"mark":{"type":"text","fontSize":14,"color":"#3a3d45","align":"left","baseline":"middle"},"encoding":{"text":{"field":"label"}}},
{"data":{"values":[{"label":"Bitcoin / U.S. Dollar · 4h · BITFINEX · TradingView","t":"2022-11-18T15:23Z","p":18812}]},"mark":{"type":"text","fontSize":19,"color":"#555860","align":"left","baseline":"middle"},"encoding":{"text":{"field":"label"}}},
{"data":{"values":[{"label":"EMA","t":"2022-11-18T15:23Z","p":18708},{"label":"EMA","t":"2022-11-18T15:23Z","p":18599},{"label":"EMA","t":"2022-11-18T15:23Z","p":18487},{"label":"O","t":"2022-11-30T15:58Z","p":18815},{"label":"H","t":"2022-12-02T12:12Z","p":18815},{"label":"L","t":"2022-12-04T08:24Z","p":18815},{"label":"C","t":"2022-12-06T04:00Z","p":18815}]},"mark":{"type":"text","fontSize":14,"color":"#555860","align":"left","baseline":"middle"},"encoding":{"text":{"field":"label"}}},
{"data":{"values":[{"label":"16855.9","t":"2022-11-19T18:44Z","p":18708,"s":"EMA fast"},{"label":"16913.6","t":"2022-11-19T18:44Z","p":18599,"s":"EMA mid"},{"label":"17075.9","t":"2022-11-19T18:44Z","p":18487,"s":"EMA slow"},{"label":"16719.0","t":"2022-11-30T22:24Z","p":18815,"s":"resistance"},{"label":"16734.0","t":"2022-12-02T18:36Z","p":18815,"s":"resistance"},{"label":"16709.0","t":"2022-12-04T13:04Z","p":18815,"s":"resistance"},{"label":"16715.0","t":"2022-12-06T09:54Z","p":18815,"s":"resistance"},{"label":"−5.0 (−0.03%)","t":"2022-12-07T23:06Z","p":18815,"s":"resistance"}]},"mark":{"type":"text","fontSize":15,"align":"left","baseline":"middle"},"encoding":{"text":{"field":"label"},"color":{"field":"s","type":"nominal","legend":null,"scale":{"domain":["EMA fast","EMA mid","EMA slow","resistance","pivot","support"],"range":["#2962ff","#1fab2c","#f23645","#f23645","#000000","#1aab2a"]}}}},
{"data":{"values":[{"t":"2022-11-29T21:24Z","p":18819}]},"mark":{"type":"point","shape":"circle","filled":true,"opacity":1,"fill":"#d9efeb","stroke":null,"size":380}},
{"data":{"values":[{"t":"2022-11-29T21:24Z","p":18819}]},"mark":{"type":"point","shape":"circle","filled":true,"opacity":1,"fill":"#089981","stroke":null,"size":90}},
{"data":{"values":[{"t":"2022-11-18T15:23Z","t2":"2022-11-19T11:45Z","p":18422,"p2":18335}]},"mark":{"type":"rect","fill":"#ffffff","stroke":"#d1d4dc","strokeWidth":1,"cornerRadius":3},"encoding":{"x2":{"field":"t2"},"y2":{"field":"p2"}}},
{"data":{"values":[{"t":"2022-11-19T01:34Z","p":18379}]},"mark":{"type":"point","shape":"M-1,0.5L0,-0.5L1,0.5","filled":false,"opacity":1,"stroke":"#131722","strokeWidth":1.5,"size":100}},
{"data":{"values":[{"t":"2022-11-18T08:25Z","t2":"2023-01-03T21:30Z","p":15154}]},"mark":{"type":"rule","strokeWidth":1.5,"color":"#e0e3eb"},"encoding":{"x2":{"field":"t2"}}},
{"data":{"values":[{"t":"2023-01-02T00:43Z","p":15277.3,"p2":15154}]},"mark":{"type":"rule","strokeWidth":1,"color":"#50535e"},"encoding":{"y2":{"field":"p2"}}},
{"data":{"values":[{"t":"2022-11-18T08:25Z","t2":"2023-01-03T21:30Z","p":14975,"p2":14955}]},"mark":{"type":"rect","fill":"#e0e3eb"},"encoding":{"x2":{"field":"t2"},"y2":{"field":"p2"}}},
{"data":{"values":[{"t":"2022-11-27T10:36Z","p":15113,"p2":15011},{"t":"2022-12-31T11:30Z","p":15113,"p2":15011}]},"mark":{"type":"rule","strokeWidth":1,"color":"#e0e3eb"},"encoding":{"y2":{"field":"p2"}}},
{"data":{"values":[{"label":"1D","t":"2022-11-19T01:52Z","p":15062},{"label":"5D","t":"2022-11-19T23:58Z","p":15062},{"label":"1M","t":"2022-11-20T22:05Z","p":15062},{"label":"3M","t":"2022-11-21T20:46Z","p":15062},{"label":"6M","t":"2022-11-22T19:28Z","p":15062},{"label":"YTD","t":"2022-11-23T21:04Z","p":15062},{"label":"1Y","t":"2022-11-24T21:30Z","p":15062},{"label":"5Y","t":"2022-11-25T19:00Z","p":15062},{"label":"All","t":"2022-11-26T16:33Z","p":15062},{"label":"%","t":"2023-01-01T02:00Z","p":15062},{"label":"log","t":"2023-01-02T00:06Z","p":15062},{"label":"auto","t":"2023-01-03T03:30Z","p":15062}]},"mark":{"type":"text","fontSize":16,"color":"#131722","align":"center","baseline":"middle"},"encoding":{"text":{"field":"label"}}},
{"data":{"values":[{"label":"00:55:51 (UTC)","t":"2022-12-29T11:30Z","p":15062}]},"mark":{"type":"text","fontSize":17,"color":"#131722","align":"center","baseline":"middle"},"encoding":{"text":{"field":"label"}}},
{"data":{"values":[{"t":"2022-11-28T05:12Z","p":15062}]},"mark":{"type":"point","filled":false,"opacity":1,"stroke":"#131722","strokeWidth":1.2,"size":400,"shape":"M-0.9,0.2V-0.7H0.9V0.9H-0.3 M-0.5,-1V-0.5 M0.5,-1V-0.5 M-0.9,-0.3H0.9 M-1,0.5H0.1 M-0.3,0.1L0.1,0.5L-0.3,0.9"}},
{"data":{"values":[{"t":"2023-01-02T23:12Z","p":15216}]},"mark":{"type":"point","filled":false,"opacity":1,"stroke":"#131722","strokeWidth":1.4,"size":400,"shape":"M0.65,0A0.65,0.65,0,1,1,-0.65,0A0.65,0.65,0,1,1,0.65,0Z M0,-0.95V-0.65 M0,0.95V0.65 M-0.95,0H-0.65 M0.95,0H0.65 M-0.67,-0.67L-0.46,-0.46 M0.67,-0.67L0.46,-0.46 M-0.67,0.67L-0.46,0.46 M0.67,0.67L0.46,0.46"}},
{"data":{"values":[{"t":"2022-12-28T00:42Z","p":15339}]},"mark":{"type":"point","shape":"circle","filled":false,"opacity":1,"stroke":"#9c27b0","strokeWidth":2,"size":531}},
{"data":{"values":[{"t":"2022-12-28T00:42Z","p":15339}]},"mark":{"type":"point","filled":true,"opacity":1,"fill":"#9c27b0","stroke":null,"size":256,"shape":"M0.25,-0.75L-0.55,0.1L-0.05,0.1L-0.25,0.75L0.55,-0.1L0.05,-0.1Z"}},
{"data":{"values":[{"label":"USD","t":"2023-01-02T14:06Z","p":18834}]},"mark":{"type":"text","fontSize":11,"color":"#5a5d66","align":"center","baseline":"middle"},"encoding":{"text":{"field":"label"}}},
{"data":{"values":[{"t":"2023-01-03T00:36Z","p":18834}]},"mark":{"type":"point","shape":"M-1,-0.5L0,0.5L1,-0.5","filled":false,"opacity":1,"stroke":"#5a5d66","strokeWidth":1,"size":36}},
{"data":{"values":[{"t":"2022-12-31T12:36Z","t2":"2023-01-02T00:06Z","p":16750,"p2":16680},{"t":"2023-01-02T01:18Z","t2":"2023-01-03T19:12Z","p":16750,"p2":16680}]},"mark":{"type":"rect","fill":"#ef5060","cornerRadius":2},"encoding":{"x2":{"field":"t2"},"y2":{"field":"p2"}}},
{"data":{"values":[{"label":"BTCUSD","t":"2023-01-01T06:06Z","p":16711},{"label":"03:04:09","t":"2023-01-02T22:12Z","p":16711}]},"mark":{"type":"text","fontSize":13,"color":"#ffffff","align":"center","baseline":"middle"},"encoding":{"text":{"field":"label"}}}
]}
